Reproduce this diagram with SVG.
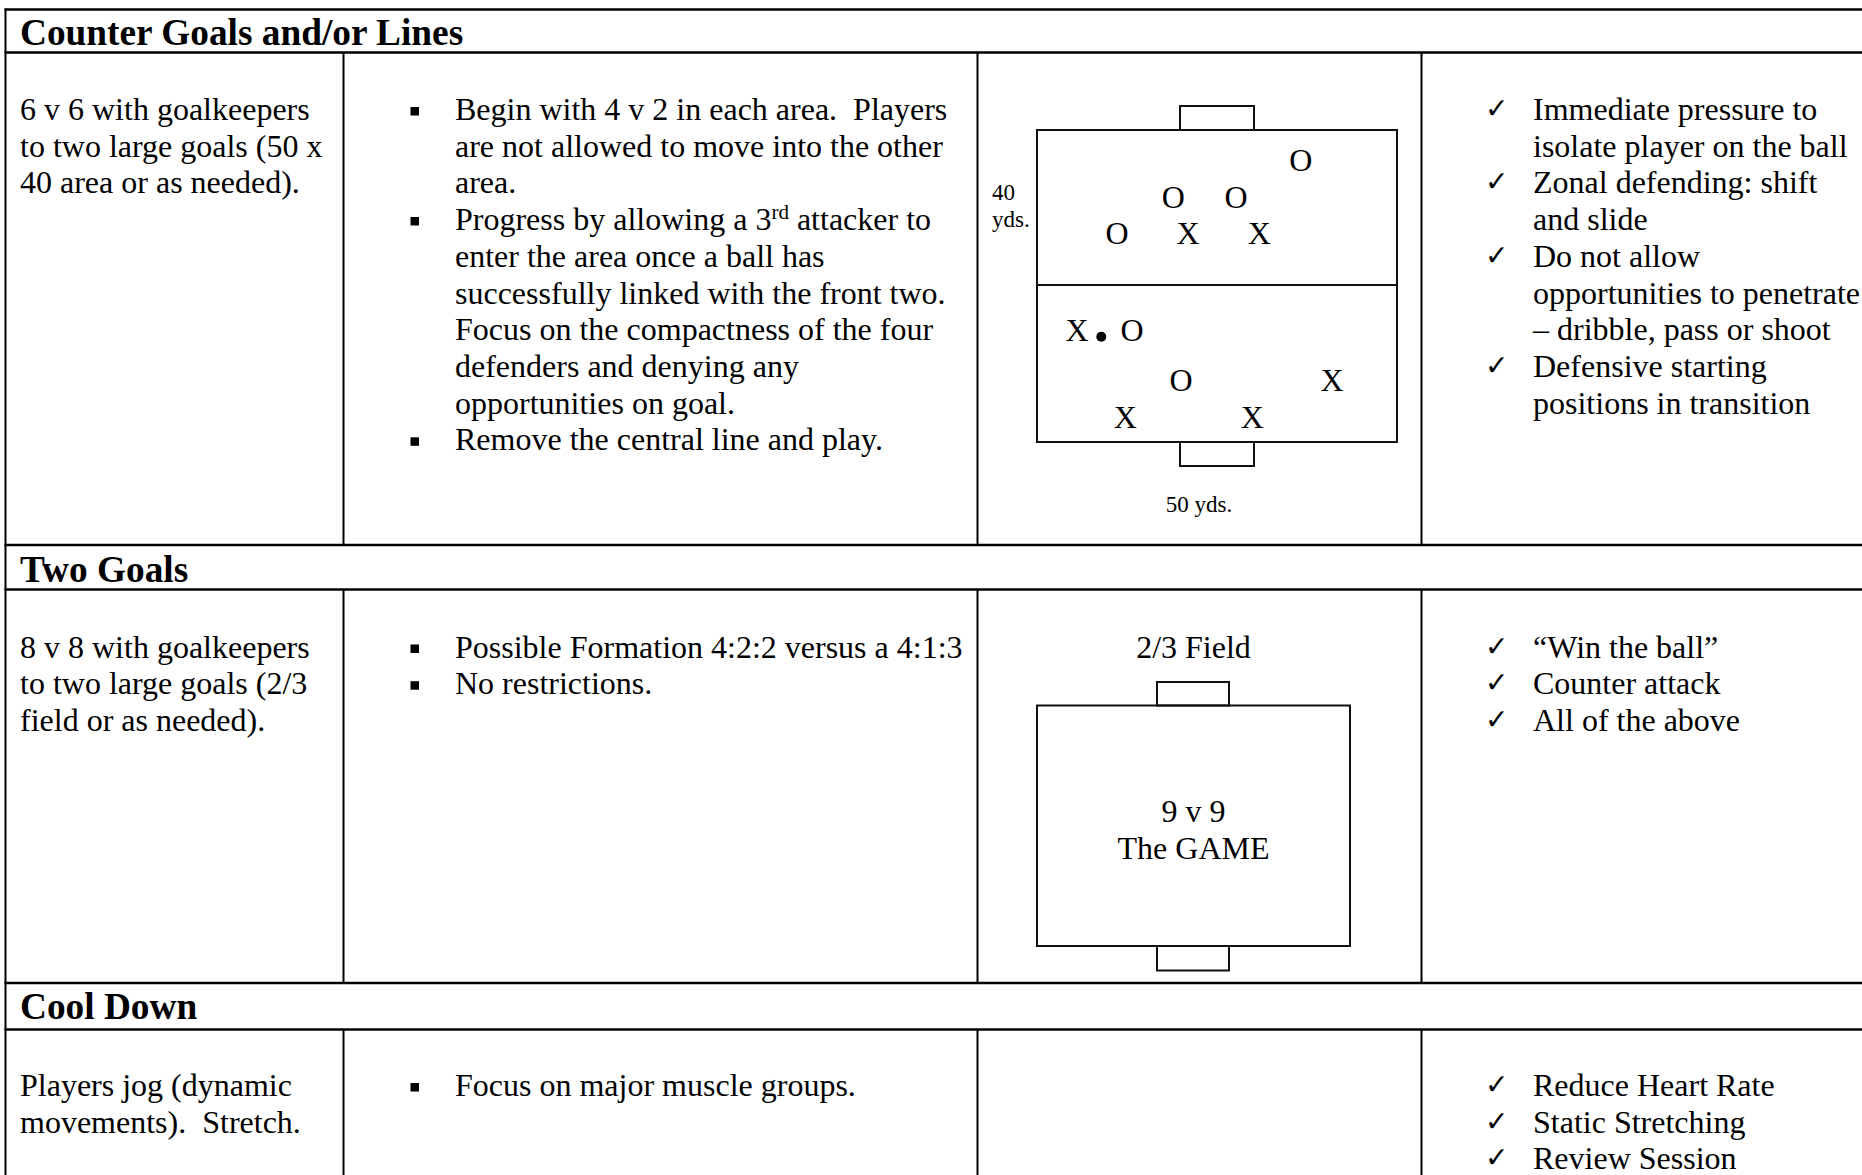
<svg xmlns="http://www.w3.org/2000/svg" width="1862" height="1175" viewBox="0 0 1862 1175">
<style>
text{font-family:"Liberation Serif","Times New Roman",serif;fill:#000}
.t{font-size:32px}
.h{font-size:37.3px;font-weight:bold}
.s{font-size:23px}
.p{font-size:32px;text-anchor:middle}
.c{text-anchor:middle}
.ck{font-family:"DejaVu Sans",sans-serif;font-size:28px}
.hl{stroke:#000;stroke-width:2.5;fill:none}
.vl{stroke:#000;stroke-width:2;fill:none}
.fl{stroke:#111;stroke-width:2;fill:none}
</style>
<defs>
<rect id="bul" width="8.5" height="8.5" fill="#000"/>
</defs>
<rect width="1862" height="1175" fill="#fff"/>
<g id="table-lines">
<line class="hl" x1="4.5" y1="9.5" x2="1862" y2="9.5"/>
<line class="hl" x1="4.5" y1="52.5" x2="1862" y2="52.5"/>
<line class="hl" x1="4.5" y1="545" x2="1862" y2="545"/>
<line class="hl" x1="4.5" y1="589.5" x2="1862" y2="589.5"/>
<line class="hl" x1="4.5" y1="983" x2="1862" y2="983"/>
<line class="hl" x1="4.5" y1="1029.5" x2="1862" y2="1029.5"/>
<line class="vl" x1="5.5" y1="8.5" x2="5.5" y2="1175"/>
<line class="vl" x1="343.5" y1="52.5" x2="343.5" y2="545"/>
<line class="vl" x1="977.5" y1="52.5" x2="977.5" y2="545"/>
<line class="vl" x1="1421.5" y1="52.5" x2="1421.5" y2="545"/>
<line class="vl" x1="343.5" y1="589.5" x2="343.5" y2="983"/>
<line class="vl" x1="977.5" y1="589.5" x2="977.5" y2="983"/>
<line class="vl" x1="1421.5" y1="589.5" x2="1421.5" y2="983"/>
<line class="vl" x1="343.5" y1="1029.5" x2="343.5" y2="1175"/>
<line class="vl" x1="977.5" y1="1029.5" x2="977.5" y2="1175"/>
<line class="vl" x1="1421.5" y1="1029.5" x2="1421.5" y2="1175"/>
</g>
<g id="connectors"></g>

<g id="header-counter-goals"><text class="h" x="20" y="45">Counter Goals and/or Lines</text></g>
<g id="r1-setup">
<text class="t" x="20" y="120">6 v 6 with goalkeepers</text>
<text class="t" x="20" y="156.7">to two large goals (50 x</text>
<text class="t" x="20" y="193.4">40 area or as needed).</text>
</g>
<g id="r1-progression">
<use href="#bul" x="410.5" y="107"/>
<use href="#bul" x="410.5" y="217"/>
<use href="#bul" x="410.5" y="437.3"/>
<text class="t" x="455" y="120" xml:space="preserve">Begin with 4 v 2 in each area.  Players</text>
<text class="t" x="455" y="156.7">are not allowed to move into the other</text>
<text class="t" x="455" y="193.4">area.</text>
<text class="t" x="455" y="230.1">Progress by allowing a 3<tspan font-size="21" dy="-11">rd</tspan><tspan dy="11"> attacker to</tspan></text>
<text class="t" x="455" y="266.8">enter the area once a ball has</text>
<text class="t" x="455" y="303.5">successfully linked with the front two.</text>
<text class="t" x="455" y="340.2">Focus on the compactness of the four</text>
<text class="t" x="455" y="376.9">defenders and denying any</text>
<text class="t" x="455" y="413.6">opportunities on goal.</text>
<text class="t" x="455" y="450.3">Remove the central line and play.</text>
</g>
<g id="r1-diagram">
<rect class="fl" x="1037" y="130" width="360" height="312"/>
<line class="fl" x1="1037" y1="285" x2="1397" y2="285"/>
<rect class="fl" x="1180" y="106" width="74" height="24"/>
<rect class="fl" x="1180" y="442" width="74" height="24"/>
<text class="s" x="992" y="200">40</text>
<text class="s" x="992" y="226.5">yds.</text>
<text class="s c" x="1199" y="511.5">50 yds.</text>
<text class="p" x="1300.7" y="171">O</text>
<text class="p" x="1173.3" y="207.7">O</text>
<text class="p" x="1236" y="207.7">O</text>
<text class="p" x="1117" y="244.3">O</text>
<text class="p" x="1188" y="244.3">X</text>
<text class="p" x="1259.3" y="244.3">X</text>
<text class="p" x="1077" y="341">X</text>
<circle cx="1101.3" cy="336.7" r="5" fill="#000"/>
<text class="p" x="1132" y="341">O</text>
<text class="p" x="1181" y="391.3">O</text>
<text class="p" x="1332" y="391.3">X</text>
<text class="p" x="1125.3" y="427.7">X</text>
<text class="p" x="1252.3" y="427.7">X</text>
</g>
<g id="r1-coaching">
<text class="ck" x="1485" y="118">✓</text>
<text class="ck" x="1485" y="191.4">✓</text>
<text class="ck" x="1485" y="264.8">✓</text>
<text class="ck" x="1485" y="374.9">✓</text>
<text class="t" x="1533" y="120">Immediate pressure to</text>
<text class="t" x="1533" y="156.7">isolate player on the ball</text>
<text class="t" x="1533" y="193.4">Zonal defending: shift</text>
<text class="t" x="1533" y="230.1">and slide</text>
<text class="t" x="1533" y="266.8">Do not allow</text>
<text class="t" x="1533" y="303.5">opportunities to penetrate</text>
<text class="t" x="1533" y="340.2">– dribble, pass or shoot</text>
<text class="t" x="1533" y="376.9">Defensive starting</text>
<text class="t" x="1533" y="413.6">positions in transition</text>
</g>

<g id="header-two-goals"><text class="h" x="20" y="581.7">Two Goals</text></g>
<g id="r2-setup">
<text class="t" x="20" y="657.5">8 v 8 with goalkeepers</text>
<text class="t" x="20" y="694.2">to two large goals (2/3</text>
<text class="t" x="20" y="730.9">field or as needed).</text>
</g>
<g id="r2-progression">
<use href="#bul" x="410.5" y="644.5"/>
<use href="#bul" x="410.5" y="681.2"/>
<text class="t" x="455" y="657.5">Possible Formation 4:2:2 versus a 4:1:3</text>
<text class="t" x="455" y="694.2">No restrictions.</text>
</g>
<g id="r2-diagram">
<text class="t c" x="1193.5" y="657.5">2/3 Field</text>
<rect class="fl" x="1037" y="705.5" width="313" height="240.5"/>
<rect class="fl" x="1157" y="682" width="72" height="23.5"/>
<rect class="fl" x="1157" y="946" width="72" height="24.5"/>
<text class="t c" x="1193.5" y="822">9 v 9</text>
<text class="t c" x="1193.5" y="858.7">The GAME</text>
</g>
<g id="r2-coaching">
<text class="ck" x="1485" y="655.5">✓</text>
<text class="ck" x="1485" y="692.2">✓</text>
<text class="ck" x="1485" y="728.9">✓</text>
<text class="t" x="1533" y="657.5">“Win the ball”</text>
<text class="t" x="1533" y="694.2">Counter attack</text>
<text class="t" x="1533" y="730.9">All of the above</text>
</g>

<g id="header-cool-down"><text class="h" x="20" y="1019.3">Cool Down</text></g>
<g id="r3-setup">
<text class="t" x="20" y="1096" xml:space="preserve">Players jog (dynamic</text>
<text class="t" x="20" y="1132.7" xml:space="preserve">movements).  Stretch.</text>
</g>
<g id="r3-progression">
<use href="#bul" x="410.5" y="1083"/>
<text class="t" x="455" y="1096">Focus on major muscle groups.</text>
</g>
<g id="r3-coaching">
<text class="ck" x="1485" y="1094">✓</text>
<text class="ck" x="1485" y="1130.7">✓</text>
<text class="ck" x="1485" y="1167.4">✓</text>
<text class="t" x="1533" y="1096">Reduce Heart Rate</text>
<text class="t" x="1533" y="1132.7">Static Stretching</text>
<text class="t" x="1533" y="1169.4">Review Session</text>
</g>
</svg>
